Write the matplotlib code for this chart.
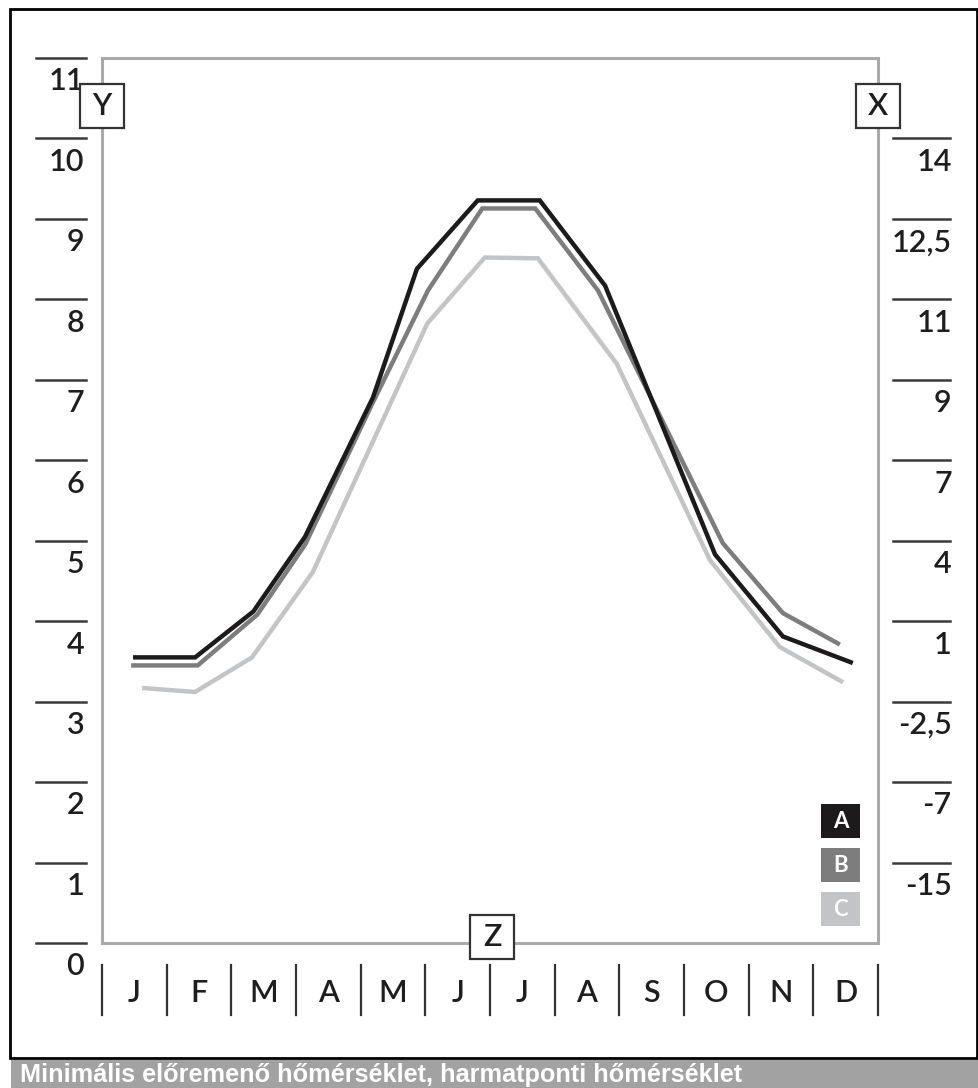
import matplotlib.pyplot as plt
from matplotlib.patches import Rectangle
import matplotlib.transforms as mtransforms

fontsize = 22

months = ["J", "F", "M", "A", "M", "J", "J", "A", "S", "O", "N", "D"]
left_ticks = [0, 1, 2, 3, 4, 5, 6, 7, 8, 9, 10, 11]
right_pos = [1, 2, 3, 4, 5, 6, 7, 8, 9, 10]
right_labels = ["-15", "-7", "-2,5", "1", "4", "7", "9", "11", "12,5", "14"]

# series, x in month units (0 = left edge, 12 = right edge)
a_x = [0.48, 1.44, 2.34, 3.14, 4.19, 4.87, 5.81, 6.77, 7.78, 9.48, 10.53, 11.61]
a_y = [3.55, 3.55, 4.12, 5.05, 6.78, 8.38, 9.23, 9.23, 8.17, 4.83, 3.81, 3.48]

b_x = [0.45, 1.48, 2.40, 3.14, 4.19, 5.04, 5.88, 6.70, 7.67, 9.60, 10.53, 11.41]
b_y = [3.45, 3.45, 4.08, 4.95, 6.72, 8.11, 9.13, 9.13, 8.11, 4.97, 4.10, 3.71]

c_x = [0.62, 1.44, 2.32, 3.26, 5.03, 5.92, 6.74, 7.96, 9.40, 10.48, 11.46]
c_y = [3.17, 3.12, 3.55, 4.61, 7.70, 8.52, 8.51, 7.20, 4.76, 3.68, 3.24]

series = [
    ("C", c_x, c_y, "#c3c4c6"),
    ("B", b_x, b_y, "#7d7d7d"),
    ("A", a_x, a_y, "#1c1a1b"),
]
legend = [("A", "#1c1a1b"), ("B", "#7d7d7d"), ("C", "#c3c4c6")]

caption = "Minimális előremenő hőmérséklet, harmatponti hőmérséklet"

plt.rcParams["font.family"] = ["Lato", "DejaVu Sans"]

W, H = 979, 1088
fig = plt.figure(figsize=(W / 100, H / 100), dpi=100)
ax = fig.add_axes([102 / W, (H - 943) / H, 776 / W, 885 / H])

for label, x, y, color in series:
    ax.plot(x, y, color=color, linewidth=3.2, solid_joinstyle="miter",
            solid_capstyle="butt", zorder=3)

ax.set_xlim(0, 12)
ax.set_ylim(0, 11)
ax.set_xticks([])
ax.set_yticks([])
for sp in ax.spines.values():
    sp.set_color("#a9a9a9")
    sp.set_linewidth(2.2)

trans = mtransforms.blended_transform_factory(ax.transAxes, ax.transData)
off = 0.29
txt = dict(fontsize=fontsize, color="#1e1e1e", fontweight="semibold")

# left scale
for v in left_ticks:
    ax.plot([-0.085, -0.0206], [v, v], transform=trans, color="#3a3a3a",
            linewidth=1.8, clip_on=False)
    ax.text(-0.023, v - off, str(v), transform=trans, ha="right",
            va="center", **txt)

# right scale
for v, lab in zip(right_pos, right_labels):
    ax.plot([1.019, 1.093], [v, v], transform=trans, color="#3a3a3a",
            linewidth=1.8, clip_on=False)
    ax.text(1.095, v - off, lab, transform=trans, ha="right",
            va="center", **txt)

# months
trans_x = mtransforms.blended_transform_factory(ax.transData, ax.transAxes)
for i in range(13):
    ax.plot([i, i], [-0.025, -0.081], transform=trans_x, color="#333333",
            linewidth=1.6, clip_on=False)
for i, m in enumerate(months):
    ax.text(i + 0.5, -0.056, m, transform=trans_x, ha="center", va="center",
            **txt)

# boxed axis names
bw, bh = 44 / 776, 44 / 885
for name, cx, cy in [("Y", 0.0, 0.946), ("X", 1.0, 0.946), ("Z", 0.5026, 0.007)]:
    ax.add_patch(Rectangle((cx - bw / 2, cy - bh / 2), bw, bh,
                           transform=ax.transAxes, facecolor="white",
                           edgecolor="#333333", linewidth=1.6,
                           clip_on=False, zorder=5))
    ax.text(cx, cy, name, transform=ax.transAxes, ha="center", va="center",
            zorder=6, **txt)

# legend squares
lw_, lh_ = 39 / 776, 34 / 885
tops = [0.157, 0.1073, 0.0576]
for (lab, color), top in zip(legend, tops):
    ax.add_patch(Rectangle((0.9265, top - lh_), lw_, lh_,
                           transform=ax.transAxes, facecolor=color,
                           edgecolor="none", zorder=5))
    ax.text(0.9265 + lw_ / 2, top - lh_ / 2, lab, transform=ax.transAxes,
            ha="center", va="center", fontsize=16, fontweight="bold",
            color="white", zorder=6)

# outer frame and caption band
fig.add_artist(Rectangle((10 / W, (H - 1058) / H), (977 - 10) / W,
                         (1058 - 9) / H, transform=fig.transFigure,
                         fill=False, edgecolor="black", linewidth=2))
fig.add_artist(Rectangle((11 / W, 0), 1, (H - 1060) / H,
                         transform=fig.transFigure, facecolor="#a2a2a2",
                         edgecolor="none"))
fig.text(20 / W, 13 / H, caption, ha="left", va="center", fontsize=18.2,
         fontweight="bold", color="white", family="Liberation Sans")

fig.savefig("out.png", dpi=100)
